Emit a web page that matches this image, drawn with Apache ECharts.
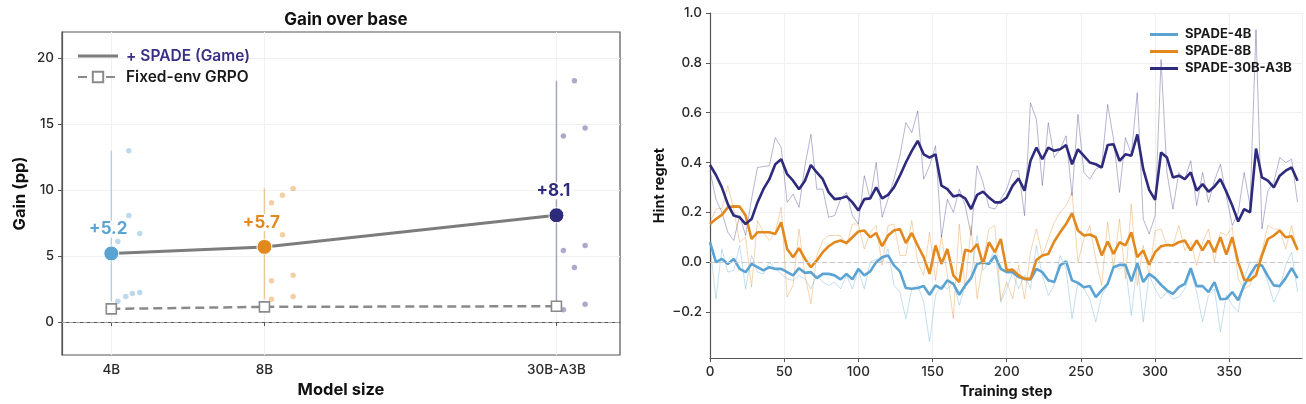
<!DOCTYPE html>
<html>
<head>
    <meta charset="utf-8">
    <title>SPADE gains and hint regret</title>
    <style>
        html, body { margin: 0; padding: 0; background: #fff; }
        #main { width: 1306px; height: 404px; }
    </style>
</head>
<body>
    <div id="main"></div>
    <script src="https://cdn.jsdelivr.net/npm/echarts@6/dist/echarts.min.js"></script>
    <script>
    // ---- left panel: gain over base ----
    var models = ['4B', '8B', '30B-A3B'];
    var modelSize = [4, 8, 30];
    var spadeMean = [5.2, 5.7, 8.1];
    var grpoMean = [1.0, 1.15, 1.2];
    var seeds4B = [[4.12, 6.1], [4.12, 1.57], [4.27, 1.94], [4.33, 13.0], [4.33, 8.08], [4.40, 2.17], [4.55, 6.72], [4.55, 2.25]];
    var seeds8B = [[8.26, 9.04], [8.26, 3.13], [8.26, 1.72], [8.68, 9.62], [8.68, 6.62], [9.11, 10.13], [9.11, 3.54], [9.11, 1.94]];
    var seeds30B = [[30.96, 14.12], [30.96, 5.43], [30.96, 0.93], [32.54, 18.31], [32.54, 4.14], [34.16, 14.72], [34.16, 5.81], [34.16, 1.34]];
    var gainTicks = [0, 5, 10, 15, 20];

    // ---- right panel: hint regret over training ----
    var stepEvery = 4;
    var regret4BRaw = [
        0.067, -0.147, 0.053, -0.04, -0.033, 0.067, -0.107, 0.027, -0.04, -0.047, 0.0, -0.027, -0.047, -0.067, -0.073, -0.053, -0.067, -0.107, -0.053, -0.08, -0.093, -0.08, -0.107, -0.053, -0.107, -0.033,
        -0.107, 0.0, 0.013, 0.0, 0.053, -0.093, -0.12, -0.227, -0.107, -0.093, -0.16, -0.32, -0.133, -0.093, -0.107, -0.08, -0.173, -0.093, -0.053, 0.107, -0.033, 0.0, 0.053, -0.16, -0.107,
        -0.04, -0.107, -0.053, -0.107, 0.067, -0.053, -0.133, -0.093, 0.027, -0.027, -0.227, -0.08, -0.107, -0.147, -0.24, -0.133, -0.093, -0.013, -0.027, -0.013, -0.213, 0.0, -0.24, -0.053, -0.107,
        -0.147, -0.12, -0.147, -0.14, -0.107, -0.04, -0.12, -0.24, -0.133, -0.107, -0.28, -0.133, -0.173, -0.2, -0.067, 0.0, 0.0, -0.013, -0.08, -0.16, -0.107, -0.013, 0.04, -0.12
    ];
    var regret4B = [
        0.08, 0.0, 0.013, -0.007, 0.013, -0.027, -0.04, -0.007, -0.02, -0.033, -0.02, -0.027, -0.027, -0.04, -0.053, -0.024, -0.043, -0.04, -0.064, -0.047, -0.047, -0.053, -0.069, -0.047, -0.069, -0.027,
        -0.053, -0.037, 0.0, 0.02, 0.027, -0.013, -0.037, -0.104, -0.107, -0.104, -0.096, -0.131, -0.093, -0.107, -0.073, -0.087, -0.131, -0.093, -0.064, -0.007, 0.0, -0.007, 0.027, -0.027, -0.04,
        -0.04, -0.06, -0.067, -0.069, -0.027, -0.04, -0.073, -0.08, -0.013, 0.003, -0.073, -0.083, -0.101, -0.096, -0.14, -0.113, -0.087, -0.02, -0.011, -0.011, -0.077, -0.004, -0.08, -0.047, -0.064,
        -0.091, -0.113, -0.127, -0.1, -0.087, -0.024, -0.096, -0.096, -0.12, -0.08, -0.149, -0.147, -0.12, -0.153, -0.093, -0.051, -0.013, -0.013, -0.056, -0.093, -0.096, -0.064, -0.024, -0.064
    ];
    var regret8BRaw = [
        0.16, 0.213, 0.216, 0.307, 0.213, 0.08, 0.10, -0.10, 0.167, 0.12, 0.087, 0.12, 0.22, -0.14, -0.093, 0.133, -0.053, -0.167, 0.027, 0.087, 0.107, 0.107, 0.107, 0.067, 0.153, 0.153,
        0.053, 0.12, 0.147, -0.013, 0.147, 0.153, 0.027, 0.027, 0.167, 0.0, -0.053, 0.12, -0.073, 0.107, -0.053, -0.227, 0.153, -0.107, 0.147, -0.147, 0.0, 0.133, 0.147, -0.153, -0.08,
        -0.147, -0.013, -0.147, 0.04, 0.133, 0.027, 0.093, 0.16, 0.20, 0.227, 0.28, 0.0, 0.093, 0.147, 0.013, -0.093, 0.16, -0.027, 0.173, -0.067, 0.233, -0.093, 0.067, -0.053, 0.127,
        0.133, 0.067, 0.067, 0.147, 0.047, 0.08, -0.013, 0.08, 0.133, 0.0, 0.12, 0.107, 0.14, -0.067, -0.107, -0.093, -0.013, 0.04, 0.147, 0.133, 0.133, 0.053, 0.147, 0.04
    ];
    var regret8B = [
        0.153, 0.173, 0.19, 0.22, 0.224, 0.223, 0.187, 0.093, 0.12, 0.12, 0.12, 0.113, 0.16, 0.053, 0.02, 0.056, 0.013, -0.02, 0.007, 0.04, 0.064, 0.08, 0.087, 0.077, 0.10, 0.123,
        0.127, 0.10, 0.117, 0.064, 0.107, 0.127, 0.133, 0.077, 0.117, 0.067, 0.02, -0.047, 0.067, -0.007, 0.053, -0.053, -0.08, 0.05, 0.043, 0.073, -0.007, 0.08, 0.04, 0.093, -0.033,
        -0.03, -0.053, -0.067, -0.067, 0.009, 0.027, 0.033, 0.083, 0.12, 0.153, 0.197, 0.127, 0.107, 0.111, 0.10, 0.027, 0.083, 0.033, 0.08, 0.067, 0.12, 0.02, 0.047, -0.01, 0.04,
        0.064, 0.069, 0.067, 0.08, 0.087, 0.047, 0.087, 0.047, 0.087, 0.04, 0.10, 0.03, 0.10, 0.0, -0.07, -0.073, -0.053, 0.027, 0.093, 0.107, 0.127, 0.10, 0.104, 0.05
    ];
    var regret30BRaw = [
        0.367, 0.253, 0.20, 0.12, 0.087, 0.187, 0.107, 0.253, 0.38, 0.384, 0.387, 0.50, 0.46, 0.24, 0.273, 0.22, 0.387, 0.513, 0.293, 0.293, 0.18, 0.187, 0.253, 0.28, 0.187, 0.153,
        0.347, 0.253, 0.40, 0.18, 0.253, 0.333, 0.427, 0.56, 0.52, 0.607, 0.333, 0.387, 0.467, 0.10, 0.253, 0.20, 0.293, 0.227, 0.107, 0.387, 0.32, 0.22, 0.213, 0.253, 0.293,
        0.367, 0.367, 0.187, 0.64, 0.573, 0.307, 0.56, 0.42, 0.453, 0.507, 0.267, 0.593, 0.36, 0.333, 0.373, 0.387, 0.633, 0.493, 0.28, 0.50, 0.433, 0.68, 0.173, 0.113, 0.187,
        0.813, 0.36, 0.213, 0.36, 0.333, 0.407, 0.227, 0.36, 0.24, 0.327, 0.393, 0.267, 0.147, 0.20, 0.36, 0.227, 0.933, 0.133, 0.287, 0.32, 0.42, 0.40, 0.413, 0.24
    ];
    var regret30B = [
        0.39, 0.35, 0.30, 0.233, 0.187, 0.18, 0.153, 0.173, 0.24, 0.293, 0.333, 0.393, 0.413, 0.353, 0.327, 0.293, 0.327, 0.39, 0.36, 0.333, 0.28, 0.253, 0.256, 0.264, 0.24, 0.207,
        0.253, 0.256, 0.30, 0.256, 0.27, 0.30, 0.347, 0.40, 0.447, 0.487, 0.433, 0.42, 0.433, 0.307, 0.293, 0.264, 0.27, 0.256, 0.213, 0.27, 0.283, 0.26, 0.24, 0.24, 0.26,
        0.307, 0.336, 0.287, 0.407, 0.46, 0.413, 0.46, 0.447, 0.453, 0.47, 0.393, 0.453, 0.427, 0.40, 0.393, 0.38, 0.47, 0.473, 0.407, 0.433, 0.427, 0.513, 0.373, 0.29, 0.25,
        0.44, 0.42, 0.34, 0.347, 0.333, 0.36, 0.287, 0.313, 0.283, 0.304, 0.333, 0.283, 0.227, 0.163, 0.213, 0.20, 0.456, 0.34, 0.327, 0.30, 0.347, 0.367, 0.38, 0.327
    ];
    var regretTicks = [-0.2, 0, 0.2, 0.4, 0.6, 0.8, 1.0];

    var COLORS = ['#5aa3d3', '#e3881c', '#2e2a7c'];
    var FONT = 'Inter, "DejaVu Sans", sans-serif';
    var LINE_ICON_WIDE = 'path://M0,0 L40,0 L40,3 L0,3 Z';
    var LINE_ICON_SHORT = 'path://M0,0 L28,0 L28,3 L0,3 Z';

    function withSteps(values) {
        return values.map(function (v, i) { return [i * stepEvery, v]; });
    }
    function minusSign(v) {
        return String(v).replace('-', '\u2212');
    }

    var seedSets = [seeds4B, seeds8B, seeds30B];
    var series = [];

    // min-max range bars behind the means
    seedSets.forEach(function (pts, i) {
        var ys = pts.map(function (p) { return p[1]; });
        series.push({
            type: 'line', xAxisIndex: 0, yAxisIndex: 0, silent: true,
            symbol: 'none', z: 1,
            lineStyle: { color: COLORS[i], opacity: 0.4, width: 1.5 },
            data: [[modelSize[i], Math.min.apply(null, ys)], [modelSize[i], Math.max.apply(null, ys)]]
        });
        series.push({
            type: 'scatter', xAxisIndex: 0, yAxisIndex: 0, silent: true,
            symbolSize: 5.5, z: 2,
            itemStyle: { color: COLORS[i], opacity: 0.4 },
            data: pts
        });
    });

    series.push({
        name: '+ SPADE (Game)', type: 'line', xAxisIndex: 0, yAxisIndex: 0,
        symbol: 'none', z: 3,
        lineStyle: { color: '#7c7c7c', width: 3 },
        itemStyle: { color: '#7c7c7c' },
        data: modelSize.map(function (m, i) { return [m, spadeMean[i]]; }),
        markLine: {
            silent: true, symbol: 'none', label: { show: false },
            lineStyle: { color: '#a0a0a0', type: [4, 3], width: 1 },
            data: [{ yAxis: 0 }]
        }
    });
    series.push({
        name: 'Fixed-env GRPO', type: 'line', xAxisIndex: 0, yAxisIndex: 0,
        symbol: 'rect', symbolSize: 10, z: 4,
        lineStyle: { color: '#8a8a8a', width: 2.5, type: [9, 5] },
        itemStyle: { color: '#fff', borderColor: '#8a8a8a', borderWidth: 1.6 },
        data: modelSize.map(function (m, i) { return [m, grpoMean[i]]; })
    });
    series.push({
        type: 'scatter', xAxisIndex: 0, yAxisIndex: 0, z: 5,
        symbolSize: 15,
        data: modelSize.map(function (m, i) {
            return {
                value: [m, spadeMean[i]],
                itemStyle: { color: COLORS[i], opacity: 1, borderColor: '#fff', borderWidth: 1 },
                label: {
                    show: true, position: 'top', distance: 8, offset: [-3, 0],
                    formatter: '+' + spadeMean[i].toFixed(1),
                    color: COLORS[i], fontSize: 17, fontWeight: 'bold', fontFamily: FONT,
                    backgroundColor: '#fff', padding: [0, 2, 0, 2]
                }
            };
        })
    });

    // right panel lines: raw (thin, faint) then smoothed (thick)
    var rawSets = [regret4BRaw, regret8BRaw, regret30BRaw];
    var smoothSets = [regret4B, regret8B, regret30B];
    var smoothNames = ['SPADE-4B', 'SPADE-8B', 'SPADE-30B-A3B'];
    for (var k = 0; k < 3; k++) {
        series.push({
            name: 'raw-' + k, type: 'line', xAxisIndex: 1, yAxisIndex: 1,
            symbol: 'none', silent: true, z: 2,
            lineStyle: { color: COLORS[k], width: 1, opacity: 0.35 },
            data: withSteps(rawSets[k]),
            markLine: k === 0 ? {
                silent: true, symbol: 'none', label: { show: false },
                lineStyle: { color: '#c8c8c8', type: [5, 3], width: 1 },
                data: [{ yAxis: 0 }]
            } : undefined
        });
        series.push({
            name: smoothNames[k], type: 'line', xAxisIndex: 1, yAxisIndex: 1,
            symbol: 'none', z: 3,
            lineStyle: { color: COLORS[k], width: 2.6 },
            itemStyle: { color: COLORS[k] },
            data: withSteps(smoothSets[k])
        });
    }

    var tickLabel = { color: '#2a2a2a', fontSize: 13.5, fontWeight: 500, fontFamily: FONT };
    var axisName = { color: '#111', fontSize: 16.5, fontWeight: 'bold', fontFamily: FONT };

    var option = {
        animation: false,
        title: {
            text: 'Gain over base', left: 341, top: 6, textAlign: 'center',
            textStyle: { color: '#111', fontSize: 17, fontWeight: 'bold', fontFamily: FONT }
        },
        legend: [{
            left: 72, top: 43, orient: 'vertical', itemGap: 5,
            itemWidth: 40, itemHeight: 13, symbolKeepAspect: true,
            textStyle: { fontSize: 15.5, fontWeight: 600, fontFamily: FONT, color: '#1a1a1a', padding: [0, 0, 0, 3] },
            data: [
                { name: '+ SPADE (Game)', icon: LINE_ICON_WIDE, textStyle: { color: '#3a2f86' } },
                { name: 'Fixed-env GRPO' }
            ]
        }, {
            left: 1145, top: 23, orient: 'vertical', itemGap: 4,
            itemWidth: 28, itemHeight: 14, symbolKeepAspect: true,
            textStyle: { fontSize: 13, fontWeight: 'bold', fontFamily: FONT, color: '#1a1a1a', padding: [0, 0, 0, 2] },
            data: smoothNames.map(function (n) { return { name: n, icon: LINE_ICON_SHORT }; })
        }],
        grid: [{
            left: 62, top: 32, width: 558, height: 323,
            show: true, borderColor: '#555', borderWidth: 1.2
        }, {
            left: 710, top: 13, width: 592, height: 347
        }],
        xAxis: [{
            gridIndex: 0, type: 'log', logBase: 10, min: 3.2, max: 40,
            name: 'Model size', nameLocation: 'middle', nameGap: 27, nameTextStyle: axisName,
            axisLine: { show: true, lineStyle: { color: '#555', width: 1.2 } },
            axisTick: { show: true, customValues: modelSize, length: 4, lineStyle: { color: '#555' } },
            axisLabel: Object.assign({
                customValues: modelSize, margin: 8,
                formatter: function (v) { return models[modelSize.indexOf(Math.round(v))] || ''; }
            }, tickLabel),
            splitLine: { show: true, lineStyle: { color: '#f0f0f0' } },
            minorTick: { show: false }, minorSplitLine: { show: false }
        }, {
            gridIndex: 1, type: 'value', min: 0, max: 399, interval: 50,
            name: 'Training step', nameLocation: 'middle', nameGap: 23,
            nameTextStyle: Object.assign({}, axisName, { fontSize: 14.5 }),
            axisLine: { show: true, onZero: false, lineStyle: { color: '#555', width: 1.2 } },
            axisTick: { show: true, length: 4, lineStyle: { color: '#555' } },
            axisLabel: Object.assign({ margin: 7, showMaxLabel: false }, tickLabel),
            splitLine: { show: true, lineStyle: { color: '#f0f0f0' } }
        }],
        yAxis: [{
            gridIndex: 0, type: 'value', min: -2.5, max: 22,
            name: 'Gain (pp)', nameLocation: 'middle', nameGap: 33, nameRotate: 90, nameTextStyle: axisName,
            axisLine: { show: true, lineStyle: { color: '#555', width: 1.2 } },
            axisTick: { show: true, customValues: gainTicks, length: 4, lineStyle: { color: '#555' } },
            axisLabel: Object.assign({ customValues: gainTicks, margin: 8 }, tickLabel),
            splitLine: { show: true, lineStyle: { color: '#f0f0f0' } }
        }, {
            gridIndex: 1, type: 'value', min: -0.385, max: 1.0,
            name: 'Hint regret', nameLocation: 'middle', nameGap: 43, nameRotate: 90,
            nameTextStyle: Object.assign({}, axisName, { fontSize: 14.5 }),
            axisLine: { show: true, onZero: false, lineStyle: { color: '#555', width: 1.2 } },
            axisTick: { show: true, customValues: regretTicks, length: 4, lineStyle: { color: '#555' } },
            axisLabel: Object.assign({
                customValues: regretTicks, margin: 8,
                formatter: function (v) { return minusSign(v.toFixed(1)); }
            }, tickLabel),
            splitLine: { show: true, lineStyle: { color: '#f0f0f0' } }
        }],
        series: series
    };

    var chart = echarts.init(document.getElementById('main'));
    chart.setOption(option);
    </script>
</body>
</html>
